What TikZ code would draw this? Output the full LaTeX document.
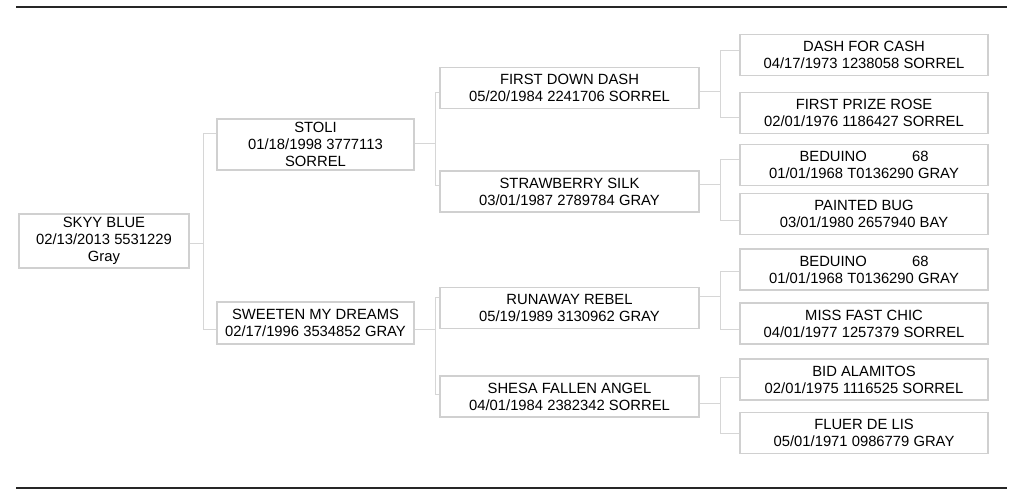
\documentclass[tikz,border=0pt]{standalone}
\usepackage{fontspec}
\setmainfont{Liberation Sans}
\usepackage{xcolor}
\usetikzlibrary{calc}
\definecolor{boxline}{HTML}{D0D0D0}
\definecolor{linkline}{HTML}{D6D6D6}
\definecolor{ruleline}{HTML}{262626}

\begin{document}
\begin{tikzpicture}[x=1pt,y=-1pt,line cap=butt,
  horse/.style={draw=boxline,line width=1.4pt,align=center,inner sep=0pt,
    text=black,font=\fontsize{14.8}{17}\selectfont},
  gen1/.style={horse,minimum width=170pt,minimum height=54pt},
  gen2/.style={horse,minimum width=197pt},
  gen3/.style={horse,minimum width=259pt,minimum height=41pt},
  gen4/.style={horse,minimum width=248pt,minimum height=41pt},
  link/.style={draw=linkline,line width=1pt}]
\useasboundingbox(0,0)rectangle(1024,498);
\draw[ruleline,line width=2pt](16,6.5)--(1007,6.5) (16,487.5)--(1007,487.5);
\node[gen1](skyy)at(104,241){SKYY BLUE\\02/13/2013 5531229\\Gray};
\node[gen2,minimum height=51pt](stoli)at(315.5,144.5){STOLI\\01/18/1998 3777113\\SORREL};
\node[gen2,minimum height=42pt](sweeten)at(315.5,323){SWEETEN MY DREAMS\\02/17/1996 3534852 GRAY};
\node[gen3](firstdown)at(569.5,88){FIRST DOWN DASH\\05/20/1984 2241706 SORREL};
\node[gen3](strawberry)at(569.5,191.5){STRAWBERRY SILK\\03/01/1987 2789784 GRAY};
\node[gen3](runaway)at(569.5,308){RUNAWAY REBEL\\05/19/1989 3130962 GRAY};
\node[gen3](shesa)at(569.5,396.5){SHESA FALLEN ANGEL\\04/01/1984 2382342 SORREL};
\node[gen4](dash)at(864,55){DASH FOR CASH\\04/17/1973 1238058 SORREL};
\node[gen4](prize)at(864,113){FIRST PRIZE ROSE\\02/01/1976 1186427 SORREL};
\node[gen4](beduinoa)at(864,165){BEDUINO\hspace*{41pt} 68\\01/01/1968 T0136290 GRAY};
\node[gen4](painted)at(864,214){PAINTED BUG\\03/01/1980 2657940 BAY};
\node[gen4](beduinob)at(864,269.5){BEDUINO\hspace*{41pt} 68\\01/01/1968 T0136290 GRAY};
\node[gen4](missfast)at(864,323.5){MISS FAST CHIC\\04/01/1977 1257379 SORREL};
\node[gen4](bid)at(864,379.5){BID ALAMITOS\\02/01/1975 1116525 SORREL};
\node[gen4](fluer)at(864,433){FLUER DE LIS\\05/01/1971 0986779 GRAY};
\draw[link]([yshift=-2pt]skyy.east)--++(14,0)coordinate(k1)|-([yshift=11.5pt]stoli.west);
\draw[link](k1)|-([yshift=-6pt]sweeten.west);
\draw[link]([yshift=1.5pt]stoli.east)--++(21,0)coordinate(k2)|-([yshift=-4pt]firstdown.west);
\draw[link](k2)|-([yshift=6.5pt]strawberry.west);
\draw[link]([yshift=-6pt]sweeten.east)--++(21,0)coordinate(k3)|-([yshift=11pt]runaway.west);
\draw[link](k3)|-([yshift=2.5pt]shesa.west);
\draw[link]([yshift=-3pt]firstdown.east)--++(21,0)coordinate(k4)|-([yshift=5pt]dash.west);
\draw[link](k4)|-([yshift=-4pt]prize.west);
\draw[link]([yshift=7.5pt]strawberry.east)--++(21,0)coordinate(k5)|-([yshift=6pt]beduinoa.west);
\draw[link](k5)|-([yshift=-6pt]painted.west);
\draw[link]([yshift=12pt]runaway.east)--++(21,0)coordinate(k6)|-([yshift=-1.5pt]beduinob.west);
\draw[link](k6)|-([yshift=-5.5pt]missfast.west);
\draw[link]([yshift=-6.5pt]shesa.east)--++(21,0)coordinate(k7)|-([yshift=2.5pt]bid.west);
\draw[link](k7)|-(fluer.west);
\end{tikzpicture}
\end{document}
